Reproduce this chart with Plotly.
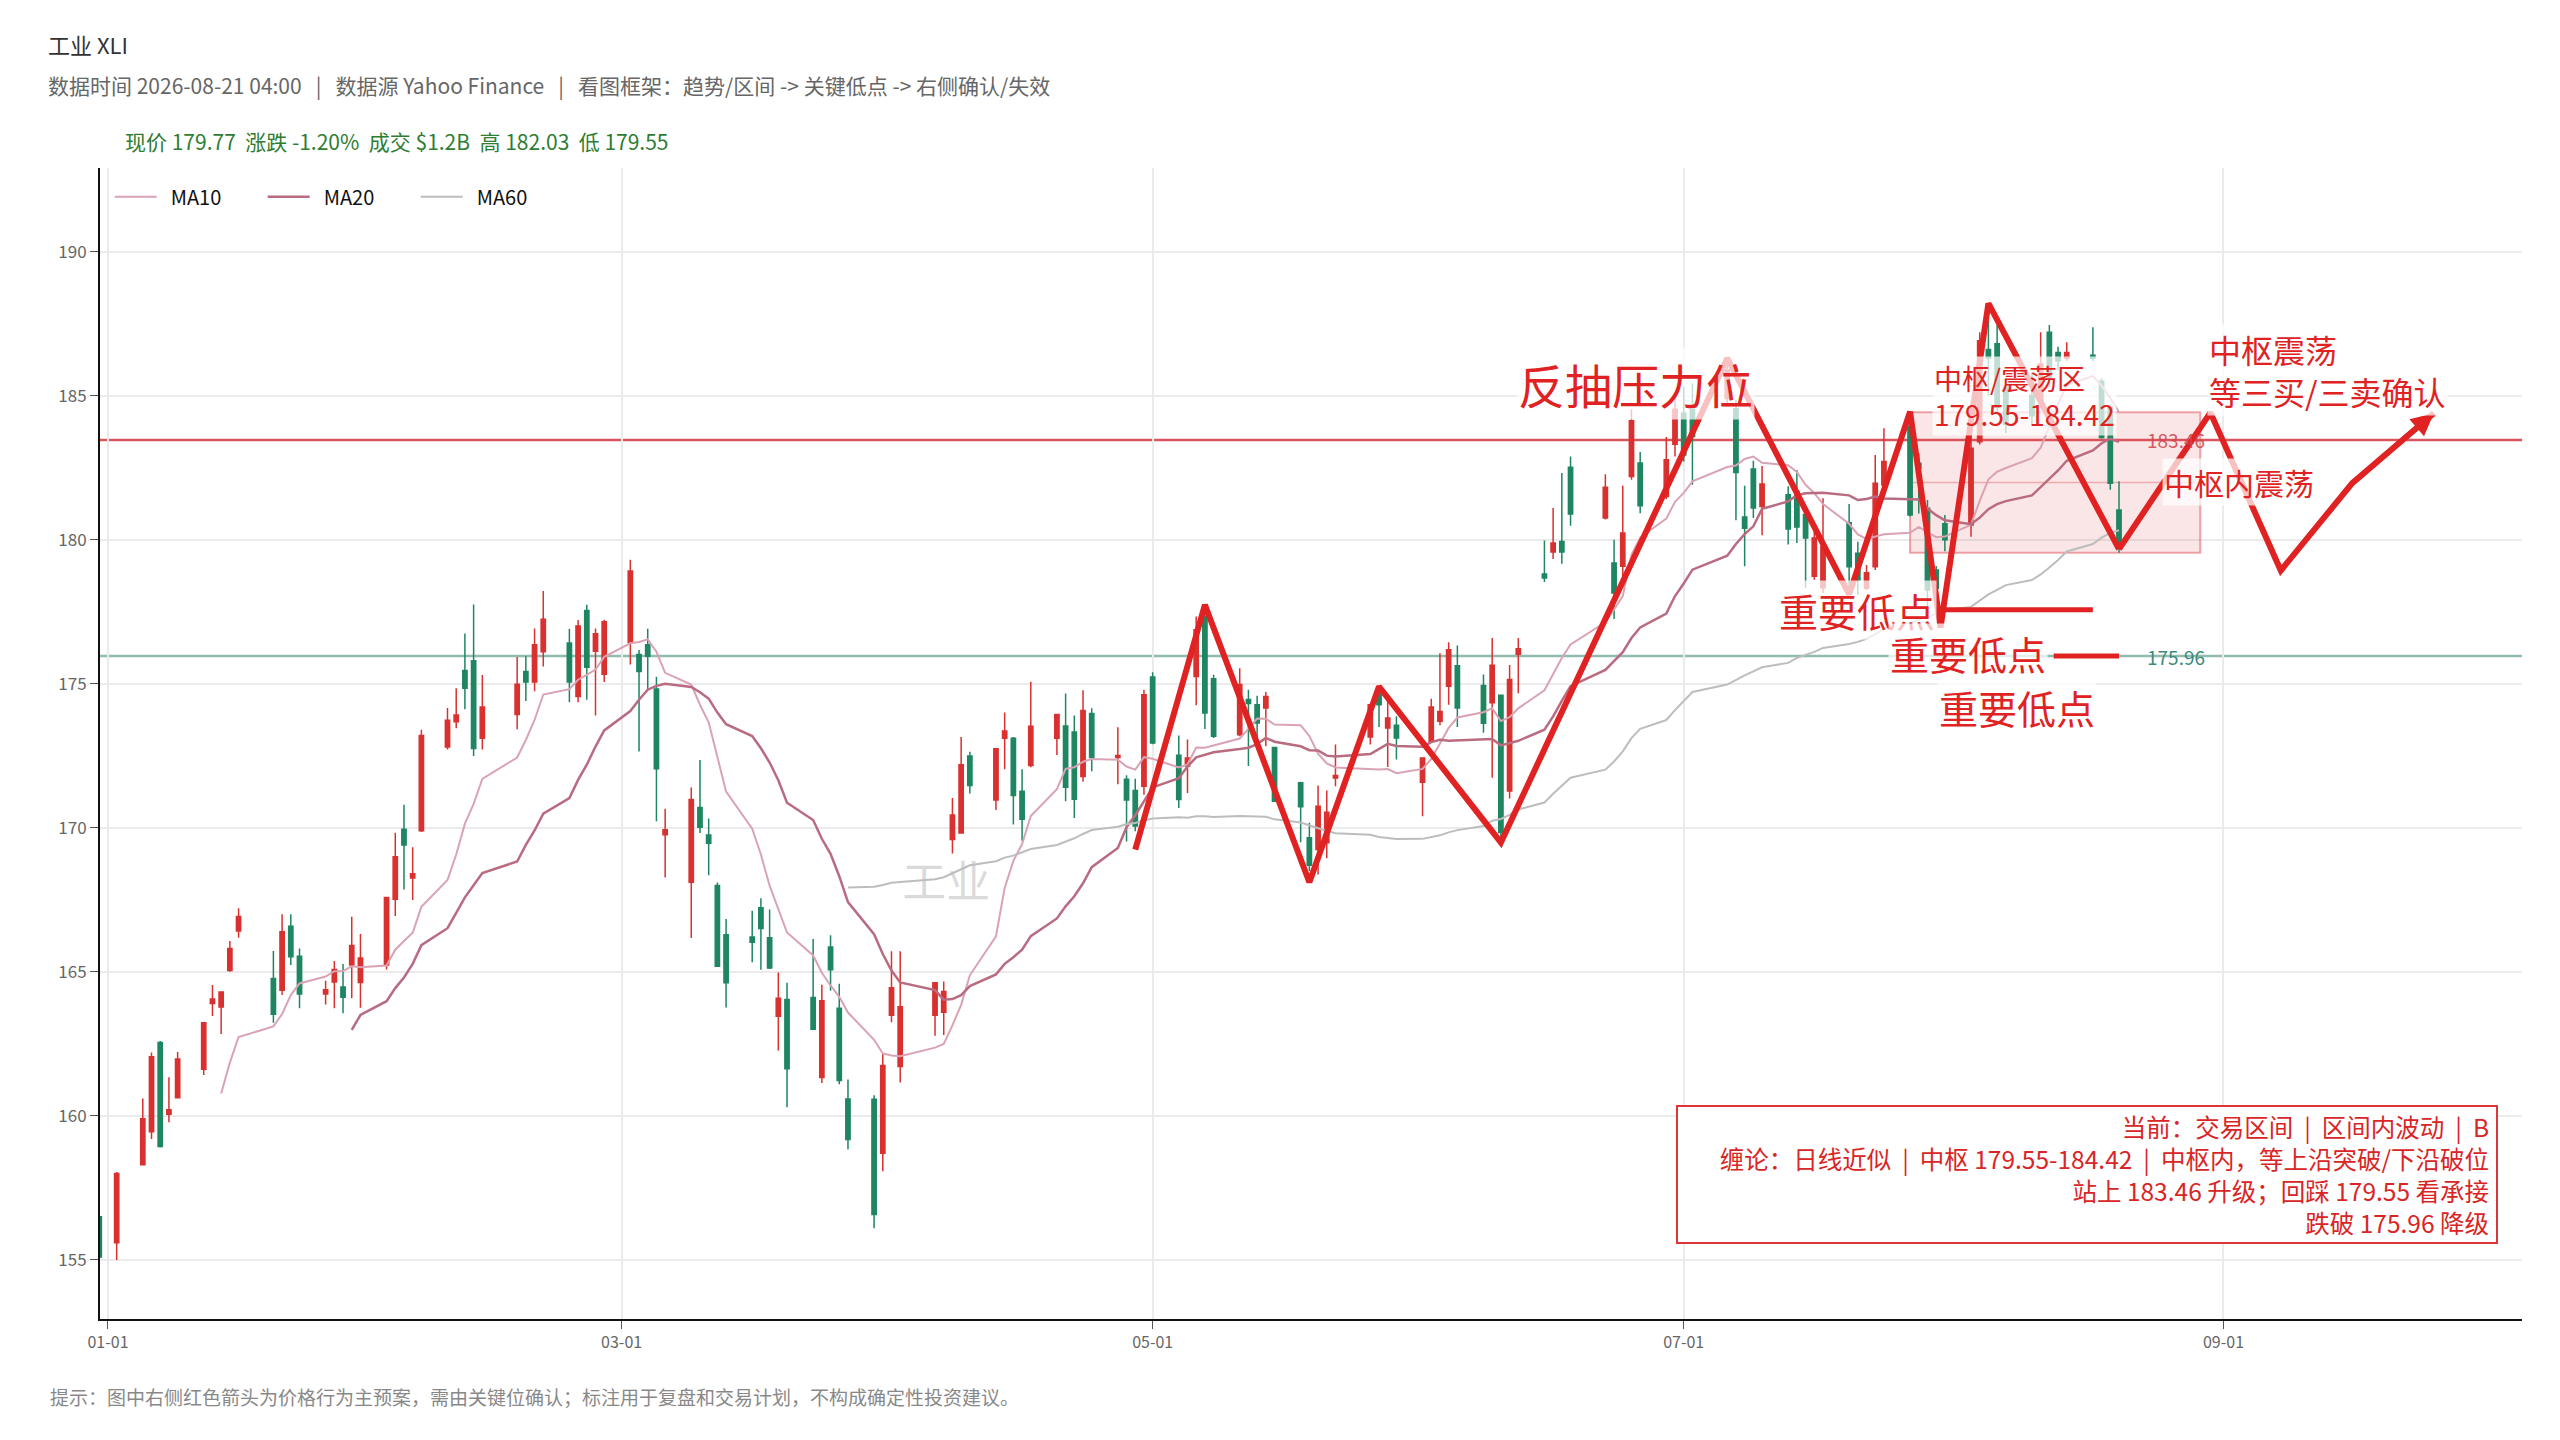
import plotly.graph_objects as go
import pandas as pd

FONT = "Noto Sans CJK SC"
RED = "#d93030"
GREEN = "#1e8660"
MARK = "#e02222"
SP = "\u00a0"

# daily candles
dates = [
    "2025-12-31", "2026-01-02", "2026-01-05", "2026-01-06", "2026-01-07", "2026-01-08", "2026-01-09",
    "2026-01-12", "2026-01-13", "2026-01-14", "2026-01-15", "2026-01-16", "2026-01-20", "2026-01-21",
    "2026-01-22", "2026-01-23", "2026-01-26", "2026-01-27", "2026-01-28", "2026-01-29", "2026-01-30",
    "2026-02-02", "2026-02-03", "2026-02-04", "2026-02-05", "2026-02-06", "2026-02-09", "2026-02-10",
    "2026-02-11", "2026-02-12", "2026-02-13", "2026-02-17", "2026-02-18", "2026-02-19", "2026-02-20",
    "2026-02-23", "2026-02-24", "2026-02-25", "2026-02-26", "2026-02-27", "2026-03-02", "2026-03-03",
    "2026-03-04", "2026-03-05", "2026-03-06", "2026-03-09", "2026-03-10", "2026-03-11", "2026-03-12",
    "2026-03-13", "2026-03-16", "2026-03-17", "2026-03-18", "2026-03-19", "2026-03-20", "2026-03-23",
    "2026-03-24", "2026-03-25", "2026-03-26", "2026-03-27", "2026-03-30", "2026-03-31", "2026-04-01",
    "2026-04-02", "2026-04-06", "2026-04-07", "2026-04-08", "2026-04-09", "2026-04-10", "2026-04-13",
    "2026-04-14", "2026-04-15", "2026-04-16", "2026-04-17", "2026-04-20", "2026-04-21", "2026-04-22",
    "2026-04-23", "2026-04-24", "2026-04-27", "2026-04-28", "2026-04-29", "2026-04-30", "2026-05-01",
    "2026-05-04", "2026-05-05", "2026-05-06", "2026-05-07", "2026-05-08", "2026-05-11", "2026-05-12",
    "2026-05-13", "2026-05-14", "2026-05-15", "2026-05-18", "2026-05-19", "2026-05-20", "2026-05-21",
    "2026-05-22", "2026-05-26", "2026-05-27", "2026-05-28", "2026-05-29", "2026-06-01", "2026-06-02",
    "2026-06-03", "2026-06-04", "2026-06-05", "2026-06-08", "2026-06-09", "2026-06-10", "2026-06-11",
    "2026-06-12", "2026-06-15", "2026-06-16", "2026-06-17", "2026-06-18", "2026-06-22", "2026-06-23",
    "2026-06-24", "2026-06-25", "2026-06-26", "2026-06-29", "2026-06-30", "2026-07-01", "2026-07-02",
    "2026-07-06", "2026-07-07", "2026-07-08", "2026-07-09", "2026-07-10", "2026-07-13", "2026-07-14",
    "2026-07-15", "2026-07-16", "2026-07-17", "2026-07-20", "2026-07-21", "2026-07-22", "2026-07-23",
    "2026-07-24", "2026-07-27", "2026-07-28", "2026-07-29", "2026-07-30", "2026-07-31", "2026-08-03",
    "2026-08-04", "2026-08-05", "2026-08-06", "2026-08-07", "2026-08-10", "2026-08-11", "2026-08-12",
    "2026-08-13", "2026-08-14", "2026-08-17", "2026-08-18", "2026-08-19", "2026-08-20",
]
opens = [
    156.5, 155.6, 158.3, 159.45, 162.55, 160.06, 160.63, 161.62, 163.9, 163.78, 165.05, 166.42, 164.77, 164.36,
    166.58, 165.54, 164.23, 164.65, 164.47, 165.24, 164.63, 165.24, 167.52, 169.95, 168.26, 169.9, 172.8, 173.68,
    175.46, 175.8, 173.11, 173.93, 175.42, 175.06, 176.11, 176.41, 174.56, 177.54, 176.13, 175.33, 176.44, 176.01,
    176.35, 174.82, 169.76, 168.11, 170.7, 169.75, 168.0, 166.29, 166.21, 167.22, 166.18, 163.46, 164.04, 164.11,
    161.33, 165.86, 163.74, 160.59, 160.58, 158.7, 163.49, 161.71, 163.49, 163.6, 169.59, 169.82, 172.49, 170.96,
    173.11, 173.11, 171.27, 172.16, 173.11, 173.53, 173.32, 171.78, 173.97, 172.44, 171.68, 171.29, 171.44, 175.23,
    172.52, 172.14, 175.25, 177.33, 175.17, 173.23, 174.45, 174.27, 174.16, 172.79, 171.56, 169.65, 169.25, 169.48,
    171.73, 173.15, 174.64, 173.46, 173.56, 171.58, 173.0, 173.7, 174.91, 175.62, 174.94, 174.34, 174.6, 171.28,
    176.02, 178.81, 179.57, 179.94, 182.51, 180.75, 179.19, 179.08, 182.19, 182.66, 181.5, 183.31, 184.39, 184.53,
    184.9, 184.54, 180.79, 182.45, 181.15, 181.56, 181.67, 180.87, 178.73, 178.33, 180.59, 179.53, 178.31, 179.06,
    181.9, 183.92, 182.65, 181.09, 178.95, 180.55, 180.51, 183.4, 186.6, 186.8, 185.3, 185.0, 184.8, 187.2,
    186.5, 186.3, 186.4, 185.5, 184.62, 181.03,
]
highs = [
    156.6, 158.05, 160.6, 162.2, 162.6, 161.34, 162.22, 163.25, 164.54, 164.32, 166.07, 167.21, 165.72, 167.0,
    167.0, 165.81, 164.69, 165.38, 165.27, 166.91, 166.31, 167.6, 169.83, 170.8, 169.32, 173.4, 174.16, 174.84,
    176.74, 177.75, 175.3, 175.93, 175.95, 176.92, 178.22, 176.91, 177.21, 177.74, 176.92, 177.22, 179.3, 176.17,
    176.91, 175.24, 170.66, 171.4, 172.35, 170.32, 168.1, 166.83, 167.12, 167.55, 167.16, 164.98, 164.62, 166.14,
    164.55, 166.27, 164.59, 161.26, 160.72, 162.16, 165.71, 165.71, 164.65, 164.66, 171.03, 173.15, 172.64, 172.76,
    174.0, 173.15, 172.03, 175.07, 173.95, 174.66, 173.9, 174.77, 174.15, 173.49, 171.82, 171.7, 174.79, 175.4,
    173.2, 173.06, 177.33, 177.45, 175.31, 175.54, 174.79, 174.58, 174.71, 172.8, 171.6, 170.17, 171.47, 171.29,
    172.89, 174.3, 174.73, 174.45, 173.87, 172.45, 174.48, 176.06, 176.44, 176.33, 175.32, 176.59, 174.62, 175.65,
    176.59, 179.97, 181.1, 182.31, 182.89, 182.27, 180.0, 181.87, 184.53, 183.04, 183.56, 185.0, 185.3, 185.43,
    186.3, 184.85, 181.87, 182.74, 182.56, 181.85, 182.42, 180.98, 180.52, 181.44, 181.24, 179.93, 179.12, 182.94,
    183.87, 184.16, 183.0, 181.38, 179.09, 180.86, 183.75, 187.2, 187.6, 187.45, 185.6, 185.8, 187.2, 187.45,
    186.7, 186.85, 187.37, 185.6, 184.7, 182.03,
]
lows = [
    155.0, 155.0, 158.3, 159.2, 158.9, 159.78, 160.6, 161.42, 163.47, 162.84, 165.0, 166.18, 163.23, 164.2,
    165.24, 163.74, 163.87, 163.74, 163.56, 164.08, 163.75, 165.08, 166.94, 167.86, 167.49, 169.85, 172.72, 173.45,
    174.11, 172.49, 172.72, 173.42, 174.4, 174.74, 175.6, 174.36, 174.36, 174.44, 173.9, 175.06, 175.67, 172.65,
    174.8, 170.23, 168.27, 166.17, 169.82, 168.35, 165.17, 163.76, 165.33, 165.07, 165.1, 162.27, 160.3, 163.0,
    161.14, 164.34, 161.1, 158.84, 156.1, 158.08, 163.25, 161.16, 162.78, 162.81, 169.11, 169.8, 171.19, 170.62,
    172.03, 170.11, 169.55, 172.1, 172.53, 170.92, 170.34, 171.6, 171.96, 171.51, 169.52, 169.88, 171.15, 172.9,
    170.69, 171.21, 174.25, 173.43, 173.12, 173.18, 172.14, 172.83, 172.83, 170.9, 169.5, 168.5, 168.38, 168.94,
    171.44, 172.89, 173.5, 172.11, 172.37, 170.4, 172.94, 173.56, 174.27, 173.5, 173.3, 171.74, 169.67, 171.02,
    174.67, 178.53, 179.33, 179.16, 180.48, 180.7, 177.25, 178.5, 182.08, 180.92, 181.41, 182.89, 182.71, 181.91,
    184.75, 180.67, 179.08, 180.75, 180.15, 179.83, 179.88, 178.33, 178.61, 178.15, 178.14, 178.08, 178.25, 178.95,
    181.49, 180.8, 180.91, 177.3, 177.57, 179.6, 180.1, 183.3, 185.0, 184.4, 183.7, 184.0, 184.6, 185.3,
    185.9, 186.2, 186.2, 183.5, 181.73, 179.55,
]
closes = [
    155.1, 158.0, 159.9, 162.05, 158.94, 160.21, 161.97, 163.23, 164.06, 164.3, 165.81, 166.92, 163.53, 166.39,
    165.52, 164.23, 164.38, 165.08, 164.12, 165.91, 165.48, 167.58, 168.99, 169.4, 168.4, 173.2, 173.73, 173.91,
    174.84, 172.75, 174.19, 174.98, 175.06, 176.35, 177.24, 175.06, 177.0, 175.57, 176.73, 177.15, 178.91, 175.42,
    175.95, 172.05, 169.93, 170.98, 170.02, 169.46, 165.19, 164.62, 166.03, 166.5, 165.13, 164.08, 161.64, 163.01,
    164.0, 165.07, 161.23, 159.18, 156.58, 161.75, 164.45, 163.79, 164.62, 164.32, 170.44, 172.19, 171.47, 172.74,
    173.36, 171.12, 170.3, 173.52, 173.93, 171.41, 170.99, 174.07, 172.44, 172.51, 170.96, 170.06, 174.62, 172.94,
    170.98, 172.42, 176.87, 173.98, 173.18, 174.97, 174.31, 173.64, 174.56, 170.92, 170.73, 168.7, 170.75, 170.54,
    171.81, 174.27, 174.27, 173.81, 173.12, 172.42, 174.19, 174.04, 176.18, 174.16, 173.63, 175.64, 169.84, 175.15,
    176.21, 178.67, 179.88, 179.57, 180.89, 181.82, 178.15, 180.23, 184.13, 181.18, 182.77, 184.53, 182.94, 183.58,
    185.9, 182.33, 180.4, 181.1, 181.93, 180.37, 180.44, 180.06, 180.06, 179.77, 179.06, 178.6, 178.85, 181.96,
    182.71, 180.86, 182.48, 178.25, 178.31, 180.0, 183.17, 186.9, 186.3, 184.6, 184.0, 184.3, 186.1, 185.6,
    186.2, 186.5, 186.3, 183.55, 181.96, 179.77,
]

# key levels
zone_low = 179.55
zone_high = 184.42
resist = 183.46
support = 175.96
key_low = 177.57

# hand drawn swing path and the projected plan
zz_dates = ["2026-04-29", "2026-05-07", "2026-05-19", "2026-05-27", "2026-06-10", "2026-07-06",
            "2026-07-20", "2026-07-27", "2026-07-30 12:00", "2026-08-05", "2026-08-20"]
zz_prices = [169.24, 177.74, 168.11, 174.9, 169.49, 186.3, 178.1, 184.44, 176.95, 188.2, 179.67]
plan_dates = ["2026-08-20", "2026-08-30 12:00", "2026-09-07 14:00", "2026-09-15 19:00", "2026-09-25 04:00"]
plan_prices = [179.67, 184.41, 178.93, 181.96, 184.39]

df = pd.DataFrame({"open": opens, "high": highs, "low": lows, "close": closes}, index=pd.to_datetime(dates))
ma10 = df["close"].rolling(10).mean()
ma20 = df["close"].rolling(20).mean()
ma60 = df["close"].rolling(60).mean()

fig = go.Figure()

fig.add_trace(go.Scatter(
    x=["2026-04-07 07:00"], y=[167.96], mode="text", text=["工业"],
    textfont=dict(family=FONT, size=44, color="rgba(150,150,150,0.35)"),
    showlegend=False, hoverinfo="skip",
))

fig.add_trace(go.Candlestick(
    x=df.index, open=df["open"], high=df["high"], low=df["low"], close=df["close"],
    increasing=dict(line=dict(color=RED, width=1.5), fillcolor=RED),
    decreasing=dict(line=dict(color=GREEN, width=1.5), fillcolor=GREEN),
    showlegend=False,
))

# legend names get a little lead-in space so the text sits further from the sample line
fig.add_trace(go.Scatter(x=df.index, y=ma10, mode="lines", name=SP * 2 + "MA10",
                         line=dict(color="#d9a3b3", width=2)))
fig.add_trace(go.Scatter(x=df.index, y=ma20, mode="lines", name=SP * 2 + "MA20",
                         line=dict(color="#b96b80", width=2.5)))
fig.add_trace(go.Scatter(x=df.index, y=ma60, mode="lines", name=SP * 2 + "MA60",
                         line=dict(color="#bdbdbd", width=2)))

fig.add_trace(go.Scatter(x=zz_dates, y=zz_prices, mode="lines", showlegend=False,
                         line=dict(color=MARK, width=6), hoverinfo="skip"))
fig.add_trace(go.Scatter(x=plan_dates, y=plan_prices, mode="lines", showlegend=False,
                         line=dict(color=MARK, width=6), hoverinfo="skip"))

# levels and zone
fig.add_shape(type="rect", xref="x", yref="y", x0="2026-07-27", x1="2026-08-29 08:00",
              y0=zone_low, y1=zone_high, fillcolor="rgba(225,60,70,0.13)",
              line=dict(color="rgba(220,60,70,0.45)", width=2), layer="between")
fig.add_shape(type="line", xref="x", yref="y", x0="2026-07-27", x1="2026-08-29 08:00",
              y0=(zone_low + zone_high) / 2, y1=(zone_low + zone_high) / 2,
              line=dict(color="rgba(220,60,70,0.35)", width=1.5), layer="between")
fig.add_shape(type="line", xref="paper", yref="y", x0=0, x1=1, y0=resist, y1=resist,
              line=dict(color="#d9555e", width=2.5), layer="between")
fig.add_shape(type="line", xref="paper", yref="y", x0=0, x1=1, y0=support, y1=support,
              line=dict(color="#91bdb0", width=2.5), layer="between")
fig.add_shape(type="line", xref="x", yref="y", x0="2026-07-31", x1="2026-08-17",
              y0=key_low, y1=key_low, line=dict(color=MARK, width=5))
fig.add_shape(type="line", xref="x", yref="y", x0="2026-08-12 12:00", x1="2026-08-20",
              y0=support, y1=support, line=dict(color=MARK, width=5))

bg = "rgba(255,255,255,0.72)"
sep2 = SP * 2 + "|" + SP * 2
sep3 = SP * 3 + "|" + SP * 3
notes = [
    dict(x=plan_dates[-1], y=plan_prices[-1], xref="x", yref="y", showarrow=True, text="",
         ax=-41, ay=35, arrowhead=2, arrowsize=0.9, arrowwidth=5, arrowcolor=MARK, standoff=0),
    dict(x="2026-08-23", y=resist, text="183.46", xanchor="left", showarrow=False,
         font=dict(size=19, color="rgba(205,70,80,0.9)")),
    dict(x="2026-08-23", y=support, text="175.96", xanchor="left", showarrow=False,
         font=dict(size=19, color="#3d8b7a")),
    dict(x="2026-06-25 10:00", y=185.42, text="反抽压力位", showarrow=False, bgcolor=bg,
         font=dict(size=47, color=MARK)),
    dict(x="2026-07-31", y=key_low, text="重要低点", xanchor="right", xshift=-8, showarrow=False, bgcolor=bg,
         font=dict(size=39, color=MARK)),
    dict(x="2026-08-12 12:00", y=support + 0.1, text="重要低点", xanchor="right", xshift=-6, showarrow=False,
         bgcolor=bg, font=dict(size=39, color=MARK)),
    dict(x="2026-08-08 07:00", y=174.2, text="重要低点", showarrow=False, bgcolor=bg,
         font=dict(size=39, color=MARK)),
    dict(x="2026-07-29 13:00", y=185.0, text="中枢/震荡区<br>179.55-184.42", xanchor="left", align="left",
         showarrow=False, bgcolor=bg, font=dict(size=28, color=MARK)),
    dict(x="2026-09-02 19:00", y=(zone_low + zone_high) / 2, text="中枢内震荡", showarrow=False, bgcolor=bg,
         font=dict(size=30, color=MARK)),
    dict(x="2026-08-30 02:00", y=184.3, text="中枢震荡<br>等三买/三卖确认", xanchor="left", yanchor="bottom",
         align="left", showarrow=False, bgcolor=bg, font=dict(size=32, color=MARK)),
    dict(x=0.990, y=0.0652, xref="paper", yref="paper", xanchor="right", yanchor="bottom", align="right",
         showarrow=False, bgcolor="white", bordercolor="#e03535", borderwidth=2, borderpad=7,
         width=804, height=121, valign="middle",
         text="当前：交易区间" + sep2 + "区间内波动" + sep2 + "B<br>"
              "缠论：日线近似" + sep2 + "中枢 179.55-184.42" + sep2 + "中枢内，等上沿突破/下沿破位<br>"
              "站上 183.46 升级；回踩 179.55 看承接<br>"
              "跌破 175.96 降级",
         font=dict(size=24.5, color="#d92525")),
    dict(x=-0.0221, y=1.108, xref="paper", yref="paper", xanchor="left", yanchor="middle", showarrow=False,
         text="工业 XLI", font=dict(size=22, color="#333333")),
    dict(x=-0.0221, y=1.0725, xref="paper", yref="paper", xanchor="left", yanchor="middle", showarrow=False,
         text="数据时间 2026-08-21 04:00" + sep3 + "数据源 Yahoo Finance" + sep3
              + "看图框架：趋势/区间 -> 关键低点 -> 右侧确认/失效",
         font=dict(size=21, color="#666666")),
    dict(x=0.0097, y=1.0235, xref="paper", yref="paper", xanchor="left", yanchor="middle", showarrow=False,
         text=(SP * 2).join(["现价 179.77", "涨跌 -1.20%", "成交 $1.2B", "高 182.03", "低 179.55"]),
         font=dict(size=21, color="#2e7d32")),
    dict(x=-0.0213, y=-0.0669, xref="paper", yref="paper", xanchor="left", yanchor="middle", showarrow=False,
         text="提示：图中右侧红色箭头为价格行为主预案，需由关键位确认；标注用于复盘和交易计划，不构成确定性投资建议。",
         font=dict(size=19, color="#888888")),
]
for n in notes:
    fig.add_annotation(**n)

fig.update_layout(
    width=2560, height=1440,
    margin=dict(l=100, r=38, t=168, b=121),
    paper_bgcolor="white", plot_bgcolor="white",
    font=dict(family=FONT, size=17, color="#666666"),
    showlegend=True,
    legend=dict(orientation="h", x=0.004, y=0.992, xanchor="left", yanchor="top",
                itemwidth=42, entrywidth=96, entrywidthmode="pixels",
                bgcolor="rgba(255,255,255,0)", font=dict(size=20, color="#111111")),
    hovermode=False,
)
fig.update_xaxes(
    type="date", range=["2025-12-31 02:00", "2026-10-05 07:00"],
    tick0="2026-01-01", dtick="M2", tickformat="%m-%d",
    showgrid=True, gridcolor="#ebebeb", gridwidth=1.5,
    showline=True, linecolor="#111111", linewidth=2,
    ticks="outside", ticklen=8, tickcolor="#555555",
    tickfont=dict(size=16, color="#666666"),
    rangeslider=dict(visible=False), zeroline=False,
)
fig.update_yaxes(
    range=[152.95, 192.9], dtick=5,
    showgrid=True, gridcolor="#ebebeb", gridwidth=1.5,
    showline=True, linecolor="#111111", linewidth=2,
    ticks="outside", ticklen=8, tickcolor="#555555",
    tickfont=dict(size=17, color="#666666"), zeroline=False,
)

fig.write_html("out.html", config={"displayModeBar": False},
               post_script="document.body.style.margin='0';")
